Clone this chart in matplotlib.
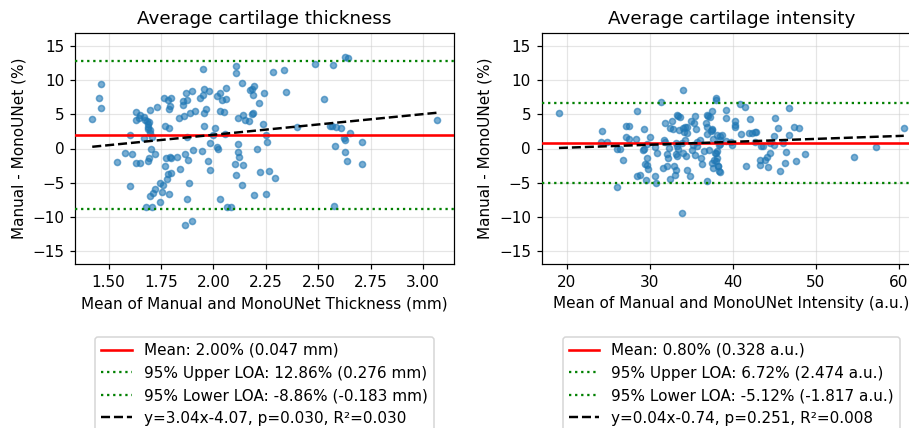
import numpy as np
import matplotlib
matplotlib.use("Agg")
import matplotlib.pyplot as plt

# ---------------- data: thickness ----------------
thick_mean = [1.422, 1.452, 1.463, 1.465, 1.540, 1.576, 1.603, 1.610, 1.603, 1.632,
              1.630, 1.643, 1.651, 1.629, 1.648, 1.670, 1.675, 1.683, 1.686, 1.687,
              1.689, 1.692, 1.695, 1.698, 1.670, 1.698, 1.706, 1.703, 1.719, 1.692,
              1.687, 1.719, 1.711, 1.698, 1.679, 1.706, 1.743, 1.733, 1.762, 1.783,
              1.797, 1.790, 1.794, 1.768, 1.790, 1.775, 1.794, 1.797, 1.767, 1.783,
              1.797, 1.778, 1.743, 1.759, 1.756, 1.790, 1.825, 1.841, 1.865, 1.879,
              1.881, 1.873, 1.862, 1.897, 1.838, 1.860, 1.857, 1.854, 1.876, 1.867,
              1.898, 1.889, 1.913, 1.873, 1.903, 1.944, 1.937, 1.952, 1.957, 1.978,
              1.949, 1.965, 1.956, 1.957, 1.975, 1.984, 1.984, 1.997, 2.008, 2.016,
              2.021, 2.016, 2.029, 2.040, 2.060, 2.062, 2.032, 2.048, 2.054, 2.030,
              2.063, 2.084, 2.102, 2.108, 2.119, 2.119, 2.119, 2.122, 2.143, 2.138,
              2.109, 2.109, 2.135, 2.141, 2.149, 2.168, 2.175, 2.183, 2.194, 2.189,
              2.186, 2.190, 2.217, 2.206, 2.192, 2.222, 2.243, 2.235, 2.254, 2.252,
              2.250, 2.266, 2.293, 2.282, 2.337, 2.345, 2.396, 2.483, 2.529, 2.572,
              2.629, 2.640, 2.555, 2.567, 2.583, 2.606, 2.653, 2.623, 2.626, 2.581,
              2.710, 2.629, 2.638, 2.710, 2.577, 3.066]
thick_diff = [4.34, 7.37, 9.46, 6.00, -2.05, -0.68, 1.95, -0.78, -5.56, 5.37,
              4.20, 4.44, 4.88, -2.15, -2.10, 4.60, 4.20, 4.00, 3.56, 3.22,
              2.93, 3.95, 2.73, 2.24, 1.51, 5.71, 1.76, 0.00, -0.78, -1.37,
              -1.80, -5.95, -6.54, -6.93, -8.63, -8.54, -7.85, 6.15, 7.37, 7.12,
              7.37, 5.85, 6.24, 3.37, 2.98, -1.41, -1.22, -1.41, -2.54, -3.76,
              -3.61, -4.49, -5.07, -5.32, -6.39, -6.68, -1.22, -3.02, -0.83, -1.66,
              -5.12, -7.41, -11.27, -10.68, 4.44, 4.78, 6.39, 6.98, 7.12, 8.10,
              8.44, 5.27, 5.51, 1.76, -0.20, -0.44, 7.46, 7.85, 8.73, 8.49,
              11.60, 5.80, 5.17, 3.37, -1.90, -3.22, 0.78, 2.00, 3.02, 0.29,
              -0.10, 7.71, 8.20, 7.12, 7.27, 8.83, 5.51, 5.41, 2.10, -7.37,
              -8.54, -8.54, -2.29, -3.95, 4.54, 0.68, -0.49, -1.32, -2.49, -5.32,
              12.10, 11.02, 9.56, 4.88, 4.20, 4.05, 8.59, 8.73, 9.17, 7.80,
              5.07, 5.17, 6.68, -0.10, -6.78, -3.41, 8.10, 3.61, 1.02, -6.63,
              2.00, -3.37, -4.34, 11.27, 11.50, 8.24, 3.22, 12.39, 7.22, 12.29,
              13.46, 13.27, 3.32, 3.27, 3.22, 2.98, 2.29, 1.51, 1.27, 0.44,
              0.93, -0.49, -1.85, -2.29, -8.39, 4.20]

thick_bias = 2.00
thick_upper = 12.86
thick_lower = -8.86
thick_slope = 3.04
thick_intercept = -4.07
thick_labels = ["Mean: 2.00% (0.047 mm)",
                "95% Upper LOA: 12.86% (0.276 mm)",
                "95% Lower LOA: -8.86% (-0.183 mm)",
                "y=3.04x-4.07, p=0.030, R\u00b2=0.030"]

# ---------------- data: intensity ----------------
inten_mean = [19.08, 24.30, 24.10, 24.82, 26.02, 26.43, 26.06, 26.75, 27.11, 27.51,
              27.11, 27.51, 28.43, 28.39, 29.32, 30.04, 29.32, 29.20, 29.72, 29.64,
              29.40, 29.72, 29.80, 28.51, 28.84, 29.60, 30.60, 30.92, 30.60, 30.72,
              31.33, 31.85, 31.73, 31.89, 32.45, 32.73, 32.85, 32.33, 32.13, 32.25,
              32.13, 31.61, 32.45, 32.93, 33.13, 33.01, 33.33, 33.45, 33.53, 33.61,
              33.17, 33.33, 33.41, 33.21, 33.33, 33.94, 34.06, 34.22, 34.54, 34.02,
              34.02, 34.34, 34.14, 34.22, 34.54, 33.86, 34.54, 34.82, 34.94, 35.14,
              35.22, 35.34, 35.46, 35.54, 35.46, 35.66, 35.74, 36.02, 36.14, 36.35,
              36.55, 36.75, 36.95, 37.07, 36.95, 36.95, 37.15, 36.95, 37.35, 37.55,
              37.55, 37.67, 37.87, 37.95, 37.95, 38.03, 37.55, 37.75, 38.15, 38.27,
              38.35, 38.15, 38.47, 38.47, 37.31, 37.51, 38.51, 38.71, 38.31, 38.11,
              38.03, 38.19, 38.43, 37.63, 39.16, 39.24, 39.24, 39.80, 39.92, 40.84,
              41.53, 40.24, 40.32, 40.32, 41.00, 41.61, 42.13, 42.01, 42.33, 42.73,
              42.85, 42.73, 43.33, 43.33, 43.45, 43.60, 43.94, 44.14, 44.46, 44.22,
              44.54, 44.94, 44.94, 45.14, 45.46, 45.74, 46.06, 46.34, 46.47, 46.83,
              46.83, 47.35, 47.95, 47.63, 48.76, 54.66, 57.27, 60.60]
inten_diff = [5.22, 2.59, 1.02, 0.98, -0.10, 0.00, -5.66, -1.76, 3.27, 3.27,
              1.71, 1.37, 5.51, 1.41, 2.83, 1.76, 0.00, -0.20, 0.63, -1.41,
              -2.29, -2.39, -3.02, -4.10, -3.95, -4.59, 0.15, -0.59, -4.10, -5.07,
              6.78, 1.02, 1.27, 3.76, 3.07, 4.05, 2.83, 0.05, -0.83, -1.41,
              -2.54, -2.88, -4.44, -2.63, -3.22, -3.95, 4.93, 4.78, 2.73, 4.68,
              0.78, 0.44, -0.05, -0.78, -1.17, 0.78, 2.98, 3.22, 3.22, 8.63,
              -0.73, -1.17, 2.49, 1.27, 2.24, -9.51, -3.22, -4.10, 4.05, -0.29,
              0.54, 3.71, 4.83, 2.93, -0.93, 0.39, 1.02, 1.27, -1.41, -2.29,
              -0.44, 3.80, 4.93, 4.78, 3.22, 2.10, -0.20, -4.83, 2.59, 2.83,
              5.51, 1.37, -0.59, -0.68, 7.12, 7.37, -2.15, -1.66, -1.41, -2.63,
              -3.37, 2.00, 1.27, 0.63, 4.68, 2.73, 1.85, 2.00, 0.54, -0.44,
              -1.90, -2.63, -3.46, -2.88, 5.66, 4.44, 1.12, 1.02, 0.54, 6.54,
              6.15, 4.05, 3.46, 3.22, 2.10, -2.54, 4.29, 2.24, 2.24, 2.39,
              2.39, 1.02, -1.66, -2.39, 0.44, 0.44, -1.66, -1.32, -0.68, -2.73,
              0.88, 0.54, 1.90, 4.44, 2.98, -3.27, 0.78, -2.15, -0.54, 2.00,
              6.00, 3.12, 3.07, -1.90, -0.83, -1.27, 0.20, 2.98]

inten_bias = 0.80
inten_upper = 6.72
inten_lower = -5.12
inten_slope = 0.043
inten_intercept = -0.74
inten_labels = ["Mean: 0.80% (0.328 a.u.)",
                "95% Upper LOA: 6.72% (2.474 a.u.)",
                "95% Lower LOA: -5.12% (-1.817 a.u.)",
                "y=0.04x-0.74, p=0.251, R\u00b2=0.008"]

titles = ["Average cartilage thickness", "Average cartilage intensity"]
xlabels = ["Mean of Manual and MonoUNet Thickness (mm)",
           "Mean of Manual and MonoUNet Intensity (a.u.)"]
ylabel = "Manual - MonoUNet (%)"
yticks = [-15, -10, -5, 0, 5, 10, 15]

plt.rcParams['font.family'] = ['DejaVu Sans']
DPI = 110
fig = plt.figure(figsize=(909 / DPI, 428 / DPI), dpi=DPI)

W, H = 909, 428
ax_w, ax_h = 379.3, 231.6
bottom = (H - 264.3) / H
axes = [fig.add_axes([75 / W, bottom, ax_w / W, ax_h / H]),
        fig.add_axes([541.7 / W, bottom, ax_w / W, ax_h / H])]

panels = [
    (thick_mean, thick_diff, thick_bias, thick_upper, thick_lower,
     thick_slope, thick_intercept, thick_labels, [1.50, 1.75, 2.00, 2.25, 2.50, 2.75, 3.00]),
    (inten_mean, inten_diff, inten_bias, inten_upper, inten_lower,
     inten_slope, inten_intercept, inten_labels, [20, 30, 40, 50, 60]),
]

for i, (ax, p) in enumerate(zip(axes, panels)):
    xm, yd, bias, up, lo, sl, ic, labs, xt = p
    xm = np.asarray(xm)
    yd = np.asarray(yd)
    ax.scatter(xm, yd, s=16, color='#1f77b4', alpha=0.6, zorder=2)
    ax.axhline(bias, color='red', lw=1.7, label=labs[0], zorder=3)
    ax.axhline(up, color='green', lw=1.5, ls=':', label=labs[1], zorder=3)
    ax.axhline(lo, color='green', lw=1.5, ls=':', label=labs[2], zorder=3)
    xr = np.array([xm.min(), xm.max()])
    ax.plot(xr, sl * xr + ic, color='black', ls='--', lw=1.6, label=labs[3], zorder=4)
    ax.set_ylim(-17, 17)
    ax.set_yticks(yticks)
    ax.set_xticks(xt)
    if i == 0:
        ax.set_xticklabels([f"{v:.2f}" for v in xt])
    ax.grid(True, color='#cccccc', alpha=0.5, lw=0.8)
    ax.set_axisbelow(True)
    ax.set_title(titles[i], fontsize=12)
    ax.set_xlabel(xlabels[i], fontsize=10)
    ax.set_ylabel(ylabel, fontsize=10)
    ax.tick_params(labelsize=10)
    ax.legend(loc='upper center', bbox_to_anchor=(0.5, -0.28), fontsize=10,
              frameon=True)

fig.savefig("out.png", dpi=DPI)
